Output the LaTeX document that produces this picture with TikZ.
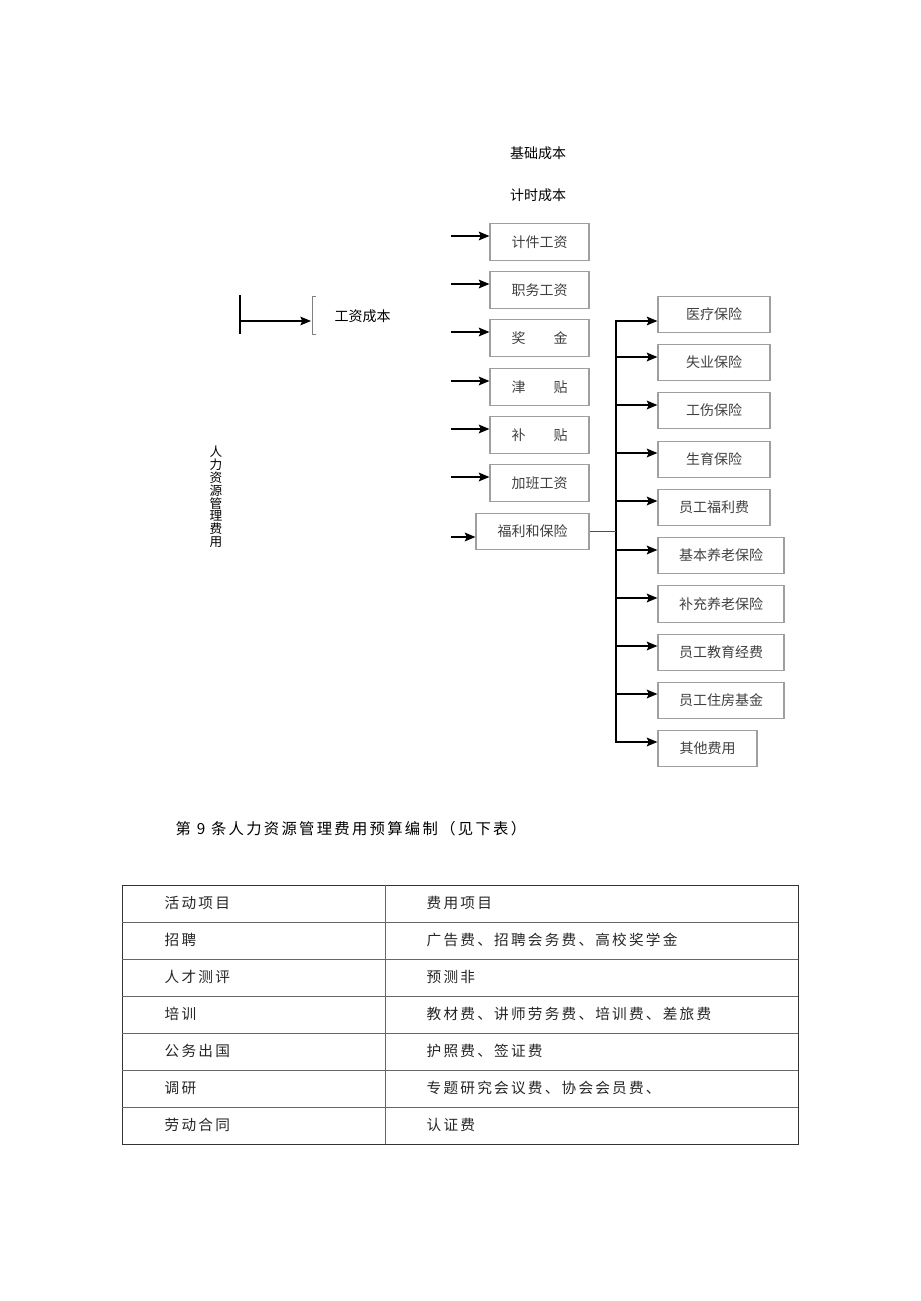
\documentclass[tikz,border=0pt]{standalone}
\usepackage{fontspec}
\setmainfont{Noto Sans CJK SC}
\newfontfamily\kuanfont[LetterSpace=15]{Noto Sans CJK SC}
\usetikzlibrary{arrows.meta,positioning,calc}

\tikzset{
  hebox/.style={draw=gray!75, thick, minimum height=27.5pt, inner sep=0pt,
                font=\fontsize{10.5}{12}\selectfont, text=black!75},
  zuobox/.style={hebox, minimum width=74.25pt},
  youbox/.style={hebox, minimum width=84pt},
  kuanbox/.style={hebox, minimum width=94.5pt},
  jt/.style={-{Stealth[length=8pt,width=6.5pt,inset=1.5pt]}, line width=1.3pt},
  biaozi/.style={anchor=west, font=\kuanfont\fontsize{11}{13}\selectfont, text=black!85}
}

\begin{document}
\begin{tikzpicture}[x=0.75pt, y=-0.75pt]
    \useasboundingbox (0,0) rectangle (920,1301);

    % 1. Judul atas
    \node[font=\fontsize{10.5}{12}\selectfont] (jichu) at (538,153) {基础成本};
    \node[font=\fontsize{10.5}{12}\selectfont] (jishi) at (538,195) {计时成本};

    % 2. Cabang kiri: 工资成本
    \coordinate (gztop) at (240,295);
    \coordinate (gzbot) at (240,334);
    \coordinate (gz) at (240,321);
    \coordinate (kuo) at (311,321);
    \draw[line width=1.2pt] (gztop) -- (gzbot);
    \draw[gray, thin] (316,296) -- (312,296) -- (312,334) -- (316,334);
    \draw[jt] (gz) -- (kuo);
    \node[anchor=west, font=\fontsize{10.5}{12}\selectfont] (gzcb) at (330,316) {工资成本};

    \node[align=center, font=\fontsize{9.5}{9.6}\selectfont] (zong) at (216,497)
        {人\\力\\资\\源\\管\\理\\费\\用};

    % 3. Kotak kolom tengah
    \node[zuobox] (jijian)   at (539.5,242) {计件工资};
    \node[zuobox] (zhiwu)    at (539.5,290) {职务工资};
    \node[zuobox] (jiangjin) at (539.5,338) {奖\hspace{2em}金};
    \node[zuobox] (jintie)   at (539.5,387) {津\hspace{2em}贴};
    \node[zuobox] (butie)    at (539.5,435) {补\hspace{2em}贴};
    \node[zuobox] (jiaban)   at (539.5,483) {加班工资};
    \node[hebox, minimum width=84.75pt] (fuli) at (532.5,531.5) {福利和保险};

    \foreach \n/\yy in {jijian/236, zhiwu/284, jiangjin/332, jintie/381,
                        butie/429, jiaban/477, fuli/537} {
        \coordinate (s-\n) at (451,\yy);
        \draw[jt] (s-\n) -- (s-\n -| \n.west);
    }

    % 4. Kotak kolom kanan
    \node[youbox]  (yiliao)  at (714,314.5) {医疗保险};
    \node[youbox]  (shiye)   at (714,362.5) {失业保险};
    \node[youbox]  (gongshang) at (714,410.5) {工伤保险};
    \node[youbox]  (shengyu) at (714,459.5) {生育保险};
    \node[youbox]  (fulifei) at (714,507.5) {员工福利费};
    \node[kuanbox] (jiben)   at (721,555.5) {基本养老保险};
    \node[kuanbox] (buchong) at (721,604) {补充养老保险};
    \node[kuanbox] (jiaoyu)  at (721,652.5) {员工教育经费};
    \node[kuanbox] (zhufang) at (721,700.5) {员工住房基金};
    \node[zuobox]  (qita)    at (707.5,748.5) {其他费用};

    \coordinate (gan) at (616,320);
    \coordinate (ganbot) at (616,743);
    \draw[line width=1.2pt] (gan) -- (ganbot);
    \draw[gray!60!black, line width=0.8pt] (fuli.east) -- (fuli.east -| gan);

    \foreach \n/\yy in {yiliao/321, shiye/357, gongshang/405, shengyu/453,
                        fulifei/501, jiben/550, buchong/598, jiaoyu/646,
                        zhufang/694, qita/742} {
        \coordinate (t-\n) at (616,\yy);
        \draw[jt] (t-\n) -- (t-\n -| \n.west);
    }

    % 5. Judul pasal
    \node[anchor=west, font=\kuanfont\fontsize{11.5}{14}\selectfont] (tiao) at (171,829)
        {第 9 条人力资源管理费用预算编制（见下表）};

    % 6. Tabel
    \draw[black!80] (122,885) rectangle (798,1144);
    \foreach \yy in {922,959,996,1033,1070,1107}
        \draw[gray!80!black] (122,\yy) -- (798,\yy);
    \draw[gray!80!black] (385,885) -- (385,1144);

    \foreach \a/\b [count=\i] in {活动项目/费用项目,
                                  招聘/广告费、招聘会务费、高校奖学金,
                                  人才测评/预测非,
                                  培训/教材费、讲师劳务费、培训费、差旅费,
                                  公务出国/护照费、签证费,
                                  调研/专题研究会议费、协会会员费、,
                                  劳动合同/认证费} {
        \node[biaozi] (huo\i) at (160,{866+37*\i}) {\a};
        \node[biaozi] (fei\i) at (422,{866+37*\i}) {\b};
    }

\end{tikzpicture}
\end{document}
